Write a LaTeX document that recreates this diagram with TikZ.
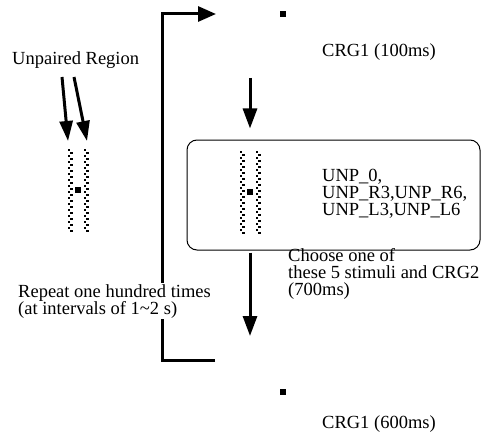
\documentclass[tikz,border=0pt]{standalone}
\usepackage{fontspec}
\setmainfont{Liberation Serif}
\usetikzlibrary{positioning, calc, arrows.meta}
\tikzset{
    Arrow/.style = {
        line width=3pt,
        -{Triangle[length=20pt, width=14pt]}
    },
    Line/.style = {
        line width=3pt
    },
    Label/.style = {
        inner sep=0pt,
        anchor=base west,
        align=left,
        font=\fontsize{18.5}{16.8}\selectfont
    },
    Dot/.style = {
        fill=black,
        inner sep=0pt,
        minimum size=5.5pt
    }
}
% two dotted strips round a fixation dot
\newcommand{\Stimulus}[3]{%
    \node[Dot, minimum size=6.5pt] (#3) at (#1,#2) {};
    \foreach \sx in {-8, 8} {
        \foreach \i [evaluate=\i as \dx using {(mod(\i,2)*2-1)*1.4}] in {0,...,27} {
            \fill ($(#3)+(\sx+\dx-1.1, -41+\i*3)$) rectangle ++(2.2,2.2);
        }
    }
}

\begin{document}
\setlength{\lineskiplimit}{-8pt}
\begin{tikzpicture}[x=1pt, y=-1pt]
    \useasboundingbox (0,0) rectangle (484,433);

    % Unpaired region
    \node[Label] (UR) at (12,65) {Unpaired Region};
    \Stimulus{78}{190}{S1}
    \coordinate (u1) at (62,77);
    \coordinate (u2) at (74,77);
    \coordinate (v1) at (68,141);
    \coordinate (v2) at (87,141);
    \draw[Arrow, -{Triangle[length=20pt, width=13pt]}] (u1) -- (v1);
    \draw[Arrow, -{Triangle[length=20pt, width=13pt]}] (u2) -- (v2);

    % CRG1 at start
    \node[Dot] (C1) at (283,14) {};
    \node[Label] (C1t) at (322,57) {CRG1 (100ms)};

    % stimuli
    \node[draw, line width=1pt, rounded corners=10pt,
          minimum width=293pt, minimum height=110pt] (box) at (333.5,195) {};
    \Stimulus{250}{192}{S2}
    \node[Label] (unp) at (322,215) {UNP\_0,\\UNP\_R3,UNP\_R6,\\UNP\_L3,UNP\_L6};
    \node[Label] (choose) at (288,295)
        {Choose one of\\these 5 stimuli and CRG2\\(700ms)};

    % flow arrows
    \coordinate (a1) at (250,78);
    \draw[Arrow] (a1) -- ([yshift=11pt]box.north -| a1);
    \coordinate (a2) at (250,336);
    \draw[Arrow] ([yshift=-2pt]box.south -| a2) -- (a2);

    % CRG1 at end
    \node[Dot] (C2) at (283,392) {};
    \node[Label] (C2t) at (322,428) {CRG1 (600ms)};

    % repeat loop
    \coordinate (loopEnd) at (215,360);
    \coordinate (loopStart) at (216,14);
    \draw[Line, -{Triangle[length=18pt, width=15pt]}] (loopEnd) -- ++(-53,0) |- (loopStart);
    \node[Label, fill=white, inner sep=1pt] (rep) at (17,314)
        {Repeat one hundred times\\(at intervals of 1\textasciitilde2 s)};
\end{tikzpicture}
\end{document}
